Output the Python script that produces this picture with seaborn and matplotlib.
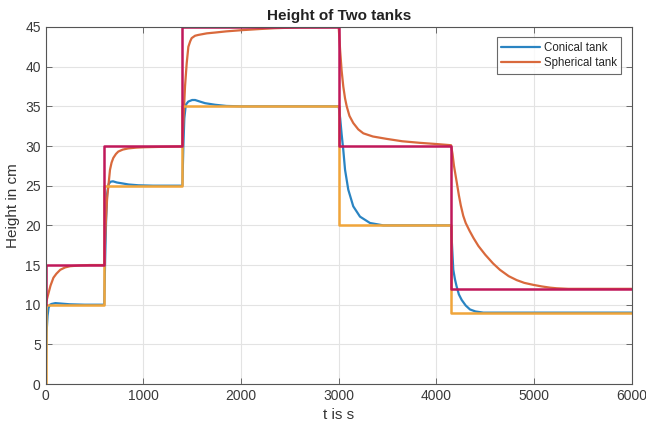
import matplotlib
matplotlib.use("Agg")
import matplotlib.pyplot as plt
import seaborn as sns

# Liquid level responses of the two tanks (time in s, height in cm)
conical_t = [0, 5, 10, 20, 30, 45, 62, 100, 150, 250, 400, 600,
             610, 620, 630, 645, 665, 690, 730, 780, 850, 950, 1100, 1400,
             1410, 1420, 1435, 1460, 1500, 1530, 1580, 1632, 1734, 1850, 2000, 3000,
             3015, 3030, 3047, 3065, 3098, 3149, 3218, 3320, 3456, 3600, 4150,
             4162, 4173, 4190, 4207, 4230, 4259, 4300, 4344, 4400, 4480, 6000]
conical_h = [0, 4, 6.5, 8.6, 9.6, 10.0, 10.1, 10.2, 10.15, 10.05, 10.0, 10.0,
             16, 21, 24, 25.2, 25.5, 25.55, 25.4, 25.3, 25.15, 25.05, 25.0, 25.0,
             30, 33.5, 35.2, 35.6, 35.8, 35.8, 35.6, 35.4, 35.2, 35.05, 35.0, 35.0,
             33.5, 31.5, 29.5, 27.0, 24.5, 22.4, 21.1, 20.3, 20.0, 20.0, 20.0,
             17, 14.4, 13.2, 12.3, 11.3, 10.6, 9.9, 9.4, 9.15, 9.0, 9.0]

spherical_t = [0, 20, 50, 80, 110, 150, 200, 250, 350, 450, 600,
               605, 615, 630, 642, 659, 675, 693, 720, 744, 790, 846, 930, 1017, 1200, 1400,
               1410, 1427, 1444, 1461, 1480, 1495, 1530, 1563, 1650, 1734, 1850, 2007, 2200,
               2348, 2600, 3000,
               3015, 3030, 3047, 3065, 3082, 3110, 3149, 3200, 3252, 3350, 3491, 3650, 3832,
               4000, 4150,
               4165, 4180, 4195, 4210, 4230, 4250, 4275, 4300, 4340, 4380, 4430, 4500, 4580,
               4650, 4740, 4822, 4900, 4992, 5080, 5163, 5231, 5350, 6000]
spherical_h = [10, 11, 12.4, 13.4, 13.9, 14.4, 14.7, 14.85, 14.95, 15.0, 15.0,
               17, 20, 23.5, 24.9, 27.0, 27.9, 28.5, 29.0, 29.3, 29.55, 29.7, 29.8, 29.85, 29.9, 29.95,
               33, 37.5, 40.4, 42.5, 43.2, 43.6, 43.9, 44.0, 44.2, 44.3, 44.45, 44.6, 44.75,
               44.85, 44.95, 45.0,
               42, 39.5, 37.5, 36, 35.0, 33.8, 32.9, 32.1, 31.6, 31.2, 30.9, 30.6, 30.4,
               30.25, 30.1,
               29.0, 27.5, 26.4, 25.3, 23.8, 22.5, 21.2, 20.3, 19.3, 18.4, 17.4, 16.3, 15.2,
               14.4, 13.6, 13.1, 12.75, 12.5, 12.3, 12.15, 12.07, 12.0, 12.0]

# Reference (set-point) levels, held until the next switching time
conical_sp_t = [0, 0, 600, 1400, 3000, 4150, 6000]
conical_sp_h = [0, 10, 25, 35, 20, 9, 9]
spherical_sp_t = [0, 0, 600, 1400, 3000, 4150, 6000]
spherical_sp_h = [10, 15, 30, 45, 30, 12, 12]

labels = ["Conical tank", "Spherical tank"]

sns.set_style("whitegrid")
plt.rcParams["font.family"] = ["Liberation Sans", "DejaVu Sans"]

fig = plt.figure(figsize=(6.46, 4.32), dpi=100)
ax = fig.add_axes([0.0706, 0.111, 0.9074, 0.8265])

blue = "#2a84c2"
orange = "#d9693c"
yellow = "#f0a53a"
magenta = "#c0185a"

sns.lineplot(x=conical_t, y=conical_h, ax=ax, color=blue, lw=1.6,
             estimator=None, sort=False, label=labels[0])
sns.lineplot(x=spherical_t, y=spherical_h, ax=ax, color=orange, lw=1.6,
             estimator=None, sort=False, label=labels[1])
sns.lineplot(x=conical_sp_t, y=conical_sp_h, ax=ax, color=yellow, lw=1.8,
             estimator=None, sort=False, drawstyle="steps-post", legend=False)
sns.lineplot(x=spherical_sp_t, y=spherical_sp_h, ax=ax, color=magenta, lw=1.8,
             estimator=None, sort=False, drawstyle="steps-post", legend=False)

ax.set_xlim(0, 6000)
ax.set_ylim(0, 45)
ax.set_xticks(range(0, 6001, 1000))
ax.set_yticks(range(0, 46, 5))
ax.grid(True, color="#e3e3e3", lw=0.8)
for s in ax.spines.values():
    s.set_visible(True)
    s.set_color("#555555")
    s.set_linewidth(0.8)
ax.tick_params(direction="in", length=4, width=0.6, color="#555555",
               labelsize=10, labelcolor="#3a3a3a",
               top=True, right=True, bottom=True, left=True)

ax.set_title("Height of Two tanks", fontsize=11, fontweight="bold", pad=5, color="#222222")
ax.set_xlabel("t is s", fontsize=11, color="#333333", labelpad=4)
ax.set_ylabel("Height in cm", fontsize=11, color="#333333", labelpad=4)

leg = ax.legend(loc="upper right", fontsize=8.3, frameon=True, fancybox=False,
                borderaxespad=0.9, handlelength=3.4, handletextpad=0.3,
                borderpad=0.4, labelspacing=0.3)
leg.get_frame().set_edgecolor("#444444")
leg.get_frame().set_linewidth(0.8)

fig.savefig("out.png", dpi=100)
